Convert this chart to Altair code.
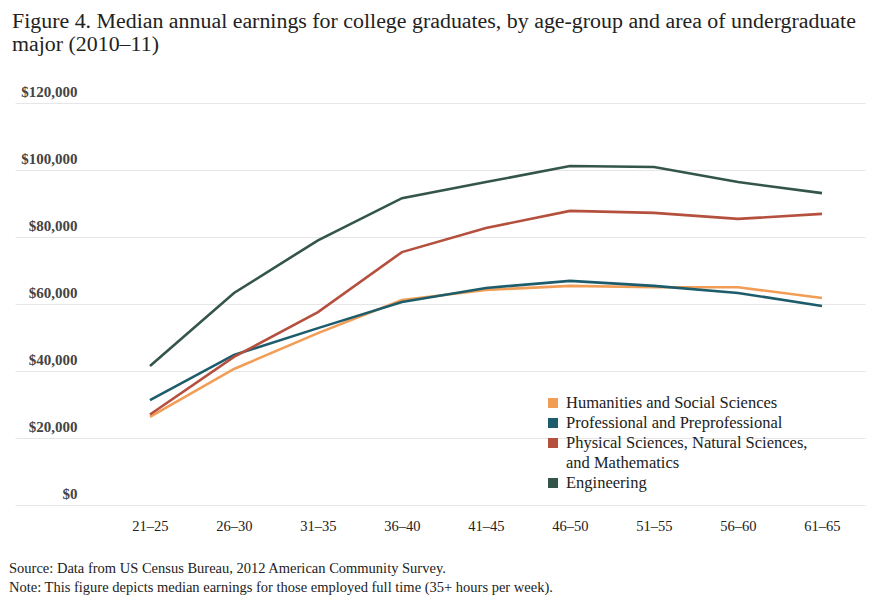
import altair as alt
import pandas as pd

ages = ["21–25", "26–30", "31–35", "36–40", "41–45", "46–50", "51–55", "56–60", "61–65"]
series_names = [
    "Humanities and Social Sciences",
    "Professional and Preprofessional",
    "Physical Sciences, Natural Sciences, and Mathematics",
    "Engineering",
]
humanities = [26300, 40600, 51300, 61200, 64200, 65400, 65000, 65000, 61800]
professional = [31300, 44800, 52800, 60600, 64800, 66900, 65400, 63300, 59400]
physical = [27000, 44200, 57600, 75500, 82700, 87800, 87200, 85400, 86900]
engineering = [41500, 63300, 79000, 91600, 96400, 101200, 100900, 96400, 93100]
colors = ["#f29d55", "#1d5d6b", "#b5503f", "#34554a"]
y_ticks = [0, 20000, 40000, 60000, 80000, 100000, 120000]
legend_lines = [
    "Humanities and Social Sciences",
    "Professional and Preprofessional",
    "Physical Sciences, Natural Sciences,",
    "and Mathematics",
    "Engineering",
]
legend_swatch_rows = [0, 1, 2, 4]
footnotes = [
    "Source: Data from US Census Bureau, 2012 American Community Survey.",
    "Note: This figure depicts median earnings for those employed full time (35+ hours per week).",
]

rows = []
for name, vals in zip(series_names, [humanities, professional, physical, engineering]):
    for i, (a, v) in enumerate(zip(ages, vals)):
        rows.append({"idx": i, "age": a, "series": name, "earnings": v})
df = pd.DataFrame(rows)

SERIF = "Liberation Serif"
age_js = "[" + ",".join("'" + a + "'" for a in ages) + "]"
color_scale = alt.Scale(domain=series_names, range=colors)

lines = alt.Chart(df).mark_line(strokeWidth=2.6).encode(
    x=alt.X("idx:Q",
            scale=alt.Scale(domain=[-1.607, 8.512], nice=False, zero=False),
            axis=alt.Axis(title=None, values=list(range(len(ages))),
                          labelExpr=age_js + "[datum.value]",
                          ticks=False, domain=False, grid=False,
                          labelPadding=14, labelFontSize=14.5, labelFont=SERIF,
                          labelColor="#222")),
    y=alt.Y("earnings:Q",
            scale=alt.Scale(domain=[0, 120000], nice=False),
            axis=alt.Axis(title=None, values=y_ticks, format="$,.0f", ticks=False,
                          domain=False, labelAlign="right", labelPadding=-62,
                          labelBaseline="bottom", labelOffset=-4,
                          labelFont=SERIF, labelFontSize=15, labelFontWeight="bold",
                          labelColor="#444", gridColor="#e6e6e6", gridWidth=1)),
    color=alt.Color("series:N", scale=color_scale, legend=None),
)

leg_scale = alt.Scale(domain=[0, 4], range=[300, 380], nice=False, zero=False)

sw_df = pd.DataFrame({"series": series_names, "row": legend_swatch_rows})
swatches = alt.Chart(sw_df).mark_square(size=100, opacity=1, filled=True).encode(
    x=alt.value(538),
    y=alt.Y("row:Q", scale=leg_scale, axis=None),
    color=alt.Color("series:N", scale=color_scale, legend=None),
)

lt_df = pd.DataFrame({"text": legend_lines, "row": list(range(len(legend_lines)))})
leg_text = alt.Chart(lt_df).mark_text(
    align="left", baseline="middle", font=SERIF, fontSize=16.5, color="#222"
).encode(
    x=alt.value(551),
    y=alt.Y("row:Q", scale=leg_scale, axis=None),
    text="text:N",
)

layers = [lines, swatches, leg_text]
note_y = [466, 485]
for k, note in enumerate(footnotes):
    ndf = pd.DataFrame({"text": [note]})
    layers.append(
        alt.Chart(ndf).mark_text(
            align="left", baseline="middle", font=SERIF, fontSize=14.5, color="#222"
        ).encode(text="text:N", x=alt.value(-6), y=alt.value(note_y[k]))
    )

chart = alt.layer(*layers).resolve_scale(y="independent").properties(
    width=850, height=402,
    padding={"left": 7, "top": 95, "right": 1, "bottom": 92},
    autosize=alt.AutoSizeParams(type="none"),
    background="white",
    title=alt.Title(
        ["Figure 4. Median annual earnings for college graduates, by age-group and area of undergraduate",
         "major (2010–11)"],
        anchor="start", frame="group", font=SERIF, fontSize=21.9, fontWeight="normal",
        color="#222", offset=28, dx=-3, lineHeight=23),
).configure_view(stroke="transparent", strokeWidth=0)

chart.save("out.html", embed_options={"renderer": "svg", "actions": False})
